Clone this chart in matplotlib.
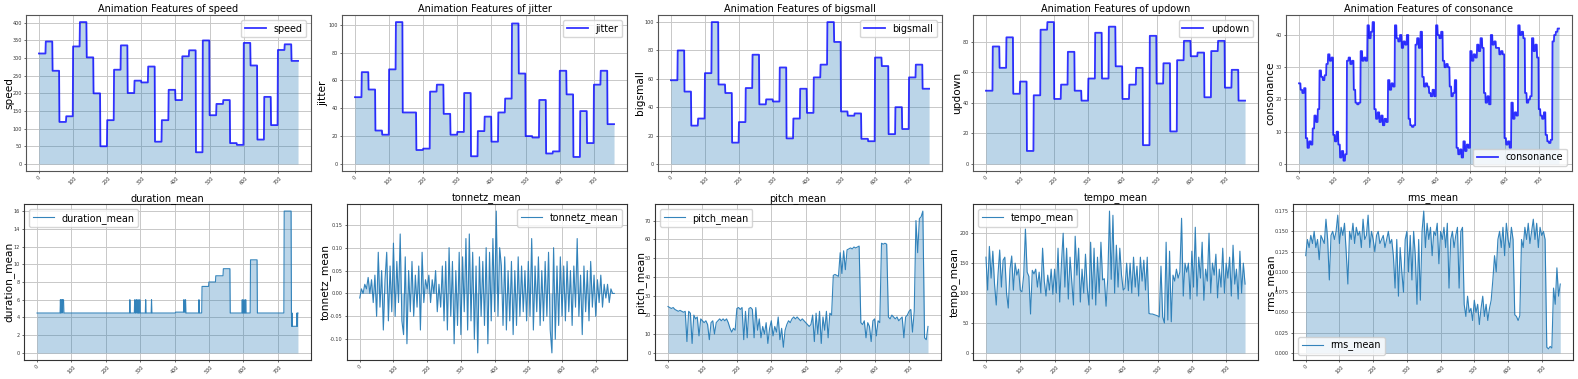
import numpy as np
import matplotlib
matplotlib.use("Agg")
import matplotlib.pyplot as plt
from matplotlib.ticker import MultipleLocator, FormatStrFormatter

# ---------------- data ----------------
N_FRAMES = 760
SEG_LEN = 20          # animation features change every 20 frames
FINE_STEP = 5         # noisy audio features sampled every 5 frames

speed_seg = [313, 347, 264, 119, 135, 333, 402, 302, 200, 50, 124, 267, 336, 201,
             236, 231, 276, 63, 124, 210, 181, 305, 322, 33, 350, 138, 170, 181,
             59, 54, 343, 279, 69, 190, 110, 323, 339, 292]
jitter_seg = [48, 66, 53.5, 24, 21, 68, 102, 37, 37, 10, 11, 52, 57, 36, 21, 23, 51,
              5.5, 23.6, 34, 16, 37, 47, 101, 65, 20, 19, 46, 7.5, 9, 67, 50, 5, 38,
              15, 57, 67, 28.6]
bigsmall_seg = [59, 80, 51, 27, 32, 64, 100, 56, 50, 15, 29.5, 53.5, 77, 42, 45.5,
                44, 68, 18, 32, 53, 36, 61, 70, 100, 86, 37, 34, 35.6, 17.7, 16, 75,
                69, 21, 40, 24.6, 61, 70, 53]
updown_seg = [48, 77, 63, 83, 46, 54, 8.5, 45, 88, 93, 42.6, 52, 73.5, 48, 41.5, 56,
              86, 56, 90, 64, 42.6, 52, 63, 12.3, 84, 52.7, 66, 21.3, 68, 80.7, 70.6,
              73, 43.7, 74, 80.7, 50, 61.7, 41.5]
consonance_fine = [25, 23, 22, 23.5, 8, 5, 7, 6, 11, 15, 13, 17, 29, 27, 26, 27.5,
                   31, 34, 32, 33, 9, 7, 10, 6, 2, 4, 1, 3, 32, 33, 31, 32,
                   23, 19, 18.5, 19, 35, 32, 33, 32, 43, 39, 41, 44, 17, 14, 16, 13,
                   15, 12, 14, 13, 26, 23, 25, 24, 43, 39, 38, 40, 36, 38, 37, 40,
                   14, 12, 11.5, 12, 37, 39, 36, 41, 27, 24, 25, 24, 22, 21, 23, 21,
                   43, 40, 39, 41, 32, 30, 31, 30, 24, 21, 22, 26, 5, 3, 4.5, 2,
                   7, 4, 6, 5, 35, 32, 34, 33, 37, 35, 39, 36, 22, 19, 21, 18.5,
                   40, 37, 38, 36, 36, 34, 35, 34, 8, 6, 7, 5, 19, 14, 16, 15,
                   43, 40, 41, 39, 22, 19, 20, 21, 39, 35, 37, 33, 17, 15, 14, 16,
                   9, 7, 6.5, 7.5, 38, 40, 41, 42]

duration_values = [4.5, 6, 4.5, 6, 4.5, 6, 4.5, 6, 4.5, 6, 4.5, 6, 4.5, 6, 4.5, 6,
                   4.5, 6, 4.5, 6, 4.5, 4.6, 6, 4.6, 6, 4.5, 6, 4.5, 7.5, 8.0, 8.7,
                   9.5, 4.5, 6, 4.5, 6, 4.5, 6, 4.5, 10.5, 4.5, 16, 4.5, 3, 4.5, 3,
                   4.5, 3, 4.5]
duration_lengths = [68, 1, 2, 2, 1, 4, 192, 1, 13, 2, 3, 2, 3, 1, 4, 1, 16, 1, 16,
                    1, 69, 24, 1, 3, 2, 38, 1, 8, 20, 20, 22, 20, 35, 1, 4, 1, 4, 1,
                    13, 20, 78, 21, 1, 1, 1, 13, 1, 1, 2]

tonnetz_fine = [-0.01, 0.01, 0.0, 0.02, 0.01, 0.035, 0.0, 0.03,
                -0.02, 0.04, -0.05, 0.09, -0.03, 0.05, -0.08, 0.03,
                0.09, -0.06, 0.06, -0.04, 0.11, -0.05, 0.07, -0.02,
                0.13, -0.06, -0.09, 0.08, -0.11, 0.05, -0.04, 0.07,
                -0.05, 0.04, -0.03, 0.06, -0.08, 0.09, -0.02, 0.03,
                0.01, 0.04, -0.02, 0.03, 0.0, 0.05, -0.04, 0.02, -0.03, 0.06,
                -0.06, 0.07, -0.08, 0.10, -0.05, 0.07, -0.11, 0.05,
                -0.07, 0.09, -0.09, 0.08, -0.04, 0.12, -0.08, 0.13,
                -0.06, 0.09, -0.10, 0.06, -0.13, 0.08, -0.05, 0.07,
                -0.07, 0.10, -0.11, 0.09, -0.06, 0.12, -0.04, 0.18,
                -0.05, 0.10, 0.06, -0.07, 0.08, -0.08, 0.05, -0.06,
                0.07, -0.09, 0.05, -0.07, 0.08, -0.05, 0.06, -0.04,
                0.05, -0.06, 0.07, -0.05, 0.12, -0.08, 0.06, -0.04,
                0.08, -0.07, 0.05, -0.06, 0.07, -0.05, 0.09, -0.08,
                -0.13, 0.10, -0.10, 0.06, -0.07, 0.08, -0.05, 0.06,
                -0.06, 0.07, -0.04, 0.05, -0.07, 0.06, -0.03, 0.12,
                -0.05, 0.04, -0.09, 0.06, -0.04, 0.05, -0.06, 0.07,
                -0.03, 0.04, -0.05, 0.03, -0.02, 0.04, -0.03, 0.02,
                -0.01, 0.02, -0.02, 0.01, 0.0, 0.0]

pitch_fine = [24.5, 24, 23.5, 24, 23, 22.5, 22, 22.5, 22, 21.5, 22,
              6, 22, 21, 5, 20,
              18, 19, 9, 18, 17, 16, 17, 15, 7, 16, 17, 10, 16, 17, 18, 17, 18, 17, 18, 16,
              13, 11, 13, 12,
              23.5, 24, 23, 24, 7, 22, 8, 23.5, 24, 23, 8, 24,
              12, 18, 8, 14, 10, 16, 5, 13, 17, 9, 14, 11, 19, 7, 13, 3, 12, 15,
              17, 16, 18, 19, 18, 19, 18, 17, 18, 17, 16, 15, 14, 15,
              20, 6, 21, 10, 22, 5, 19, 12, 22, 8, 21, 20,
              41, 41.5, 41, 40.5,
              53, 42, 54, 44, 54.5, 55, 55.5, 55, 56, 55.5, 56, 56.5,
              16, 15, 17, 8, 16, 14, 6, 17, 18, 9, 17, 16,
              58, 57.5, 58, 57.5,
              19, 18, 20, 19, 18, 19, 17, 18, 19, 8, 19, 20,
              22, 23, 11, 22,
              70, 53, 71, 72, 75,
              8, 7, 14]

tempo_fine = [160, 105, 178, 125, 170, 115, 80, 130, 172, 110, 155, 160, 100, 75, 140,
              162, 105, 150, 130, 140,
              105, 102,
              130, 207, 135, 128, 65, 138, 132, 140,
              110, 135, 100, 175, 120, 95, 130, 105, 140, 98,
              140, 100, 175, 85, 150, 200, 110, 175, 90, 160, 120, 80, 195, 130, 175, 85,
              140, 100, 165, 110,
              80, 185, 90, 175, 80, 160, 100, 185,
              122, 124, 78, 125, 237, 123,
              230, 100, 180, 110, 175, 130,
              105, 108, 150, 104,
              150, 100, 160, 110, 145, 95, 160, 120, 155, 105, 160,
              66, 65, 65, 64, 63, 62,
              60, 145, 60,
              50, 185, 55, 170, 52,
              130, 120, 140, 125, 135, 225, 95, 150, 135,
              150, 90, 170, 110, 210, 95, 160, 125, 185, 88, 140, 120, 200, 100, 150, 130,
              165, 92, 140, 110, 175, 100, 150, 125, 160, 95, 180, 115, 140, 90, 170, 100,
              150, 115]

rms_fine = [0.12, 0.14, 0.13, 0.145, 0.135, 0.15, 0.13, 0.14, 0.115, 0.145, 0.14, 0.135,
            0.165, 0.14, 0.09, 0.145, 0.15, 0.14,
            0.15, 0.17, 0.135, 0.155, 0.145, 0.16, 0.125, 0.085, 0.15, 0.14, 0.16, 0.135,
            0.155, 0.145, 0.15, 0.13, 0.165, 0.14,
            0.145, 0.17, 0.13, 0.15, 0.14, 0.125, 0.145, 0.15, 0.135, 0.14, 0.145, 0.13,
            0.14, 0.15, 0.135, 0.14,
            0.12, 0.08, 0.14, 0.07, 0.13, 0.1, 0.075, 0.14,
            0.15, 0.1, 0.145, 0.09, 0.15, 0.12,
            0.06, 0.14, 0.065,
            0.15, 0.175, 0.13, 0.16, 0.14, 0.155, 0.12, 0.15, 0.145, 0.16, 0.11, 0.15,
            0.14, 0.155, 0.13, 0.16, 0.08, 0.14, 0.15, 0.13, 0.145, 0.155, 0.08, 0.15, 0.155,
            0.06, 0.045, 0.07, 0.05, 0.055, 0.04, 0.065, 0.05, 0.06, 0.035, 0.055, 0.07,
            0.045, 0.06, 0.04, 0.055, 0.065,
            0.09, 0.12, 0.1, 0.14,
            0.15, 0.13, 0.155, 0.12, 0.16, 0.14, 0.13, 0.155, 0.14,
            0.047, 0.045, 0.04, 0.046,
            0.14, 0.13, 0.155, 0.14, 0.16, 0.135, 0.15, 0.165, 0.14, 0.16, 0.13, 0.155,
            0.145, 0.15, 0.14,
            0.007, 0.005, 0.008, 0.006,
            0.08, 0.06, 0.105, 0.07, 0.085]

# ---------------- build series ----------------
frames = np.arange(N_FRAMES)
fine_x = np.arange(0, N_FRAMES, FINE_STEP)

top_series = [
    ("speed", frames, np.repeat(speed_seg, SEG_LEN), 50, "upper right"),
    ("jitter", frames, np.repeat(jitter_seg, SEG_LEN), 20, "upper right"),
    ("bigsmall", frames, np.repeat(bigsmall_seg, SEG_LEN), 20, "upper right"),
    ("updown", frames, np.repeat(updown_seg, SEG_LEN), 20, "upper right"),
    ("consonance", frames, np.repeat(consonance_fine, FINE_STEP), 10, "lower right"),
]
bottom_series = [
    ("duration_mean", frames, np.repeat(duration_values, duration_lengths), 2, "upper left", "%g"),
    ("tonnetz_mean", fine_x, np.array(tonnetz_fine), 0.05, "upper right", "%.2f"),
    ("pitch_mean", fine_x, np.array(pitch_fine), 10, "upper left", "%g"),
    ("tempo_mean", fine_x, np.array(tempo_fine), 50, "upper left", "%g"),
    ("rms_mean", fine_x, np.array(rms_fine), 0.025, "lower left", "%.3f"),
]

# ---------------- layout (pixel boxes) ----------------
W, H = 1578, 379
top_boxes = [(26, 311), (342, 627), (658, 942), (973, 1258), (1286, 1572)]
bot_boxes = [(24, 311), (347, 627), (655, 941), (973, 1258), (1293, 1573)]
top_tb = (15, 171)
bot_tb = (204, 360)
top_label_right = [14, 328, 645, 962, 1275]
bot_label_right = [14, 332, 646, 961, 1277]

TITLE_FS = 7
LABEL_FS = 7.6
LEGEND_FS = 6.9
TICK_FS = 3.5

fig = plt.figure(figsize=(W / 100, H / 100), dpi=100)


def make_ax(lr, tb):
    l, r = lr
    t, b = tb
    return fig.add_axes([l / W, 1 - b / H, (r - l) / W, (b - t) / H])


def style_ax(ax, ystep, fmt=None, spine_color="#555555"):
    ax.set_facecolor("white")
    ax.grid(True, color="#c8c8c8", linewidth=0.7)
    ax.set_axisbelow(True)
    for sp in ax.spines.values():
        sp.set_color(spine_color)
        sp.set_linewidth(0.8)
    ax.xaxis.set_major_locator(MultipleLocator(100))
    ax.yaxis.set_major_locator(MultipleLocator(ystep))
    if fmt:
        ax.yaxis.set_major_formatter(FormatStrFormatter(fmt))
    ax.tick_params(labelsize=TICK_FS, length=1.5, width=0.5, pad=1.5, colors="#333333")
    for lab in ax.get_xticklabels():
        lab.set_rotation(45)
    ax.margins(x=0.05, y=0.05)


for i, (name, x, y, ystep, loc) in enumerate(top_series):
    ax = make_ax(top_boxes[i], top_tb)
    ax.fill_between(x, y, color="C0", alpha=0.3, linewidth=0)
    ax.plot(x, y, color="blue", alpha=0.8, linewidth=1.3, label=name)
    style_ax(ax, ystep)
    ax.set_title(f"Animation Features of {name}", fontsize=TITLE_FS, pad=2)
    ax.set_ylabel(name, fontsize=LABEL_FS)
    l, r = top_boxes[i]
    ax.yaxis.set_label_coords((top_label_right[i] - l) / (r - l), 0.5)
    ax.legend(loc=loc, fontsize=LEGEND_FS, handlelength=2.2)

for i, (name, x, y, ystep, loc, fmt) in enumerate(bottom_series):
    ax = make_ax(bot_boxes[i], bot_tb)
    ax.fill_between(x, y, color="C0", alpha=0.3, linewidth=0)
    ax.plot(x, y, color="C0", alpha=0.9, linewidth=0.8, label=name)
    style_ax(ax, ystep, fmt, spine_color="#333333")
    ax.set_title(name, fontsize=TITLE_FS, pad=2)
    ax.set_ylabel(name, fontsize=LABEL_FS)
    l, r = bot_boxes[i]
    ax.yaxis.set_label_coords((bot_label_right[i] - l) / (r - l), 0.5)
    ax.legend(loc=loc, fontsize=LEGEND_FS, handlelength=2.2)

fig.savefig("out.png", dpi=100)
